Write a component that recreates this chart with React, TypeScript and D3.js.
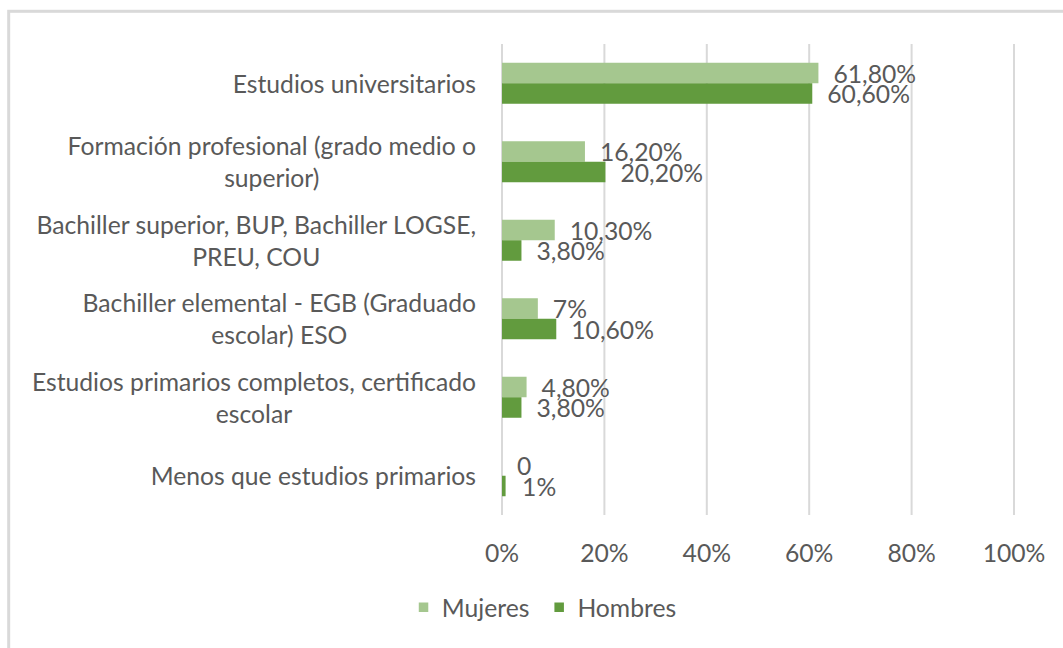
import React, { useEffect, useRef } from "react";
import * as d3 from "d3";

const categories = [
  "Estudios universitarios",
  "Formación profesional (grado medio o superior)",
  "Bachiller superior, BUP, Bachiller LOGSE, PREU, COU",
  "Bachiller elemental - EGB (Graduado escolar) ESO",
  "Estudios primarios completos, certificado escolar",
  "Menos que estudios primarios",
];
const categoryLines = [
  ["Estudios universitarios"],
  ["Formación profesional (grado medio o", "superior)"],
  ["Bachiller superior, BUP, Bachiller LOGSE,", "PREU, COU"],
  ["Bachiller elemental - EGB (Graduado", "escolar) ESO"],
  ["Estudios primarios completos, certificado", "escolar"],
  ["Menos que estudios primarios"],
];
const mujeres = [61.8, 16.2, 10.3, 7, 4.8, 0];
const hombres = [60.6, 20.2, 3.8, 10.6, 3.8, 0.7];
const mujeresLabels = ["61,80%", "16,20%", "10,30%", "7%", "4,80%", "0"];
const hombresLabels = ["60,60%", "20,20%", "3,80%", "10,60%", "3,80%", "1%"];
const xTicks = [0, 20, 40, 60, 80, 100];
const seriesNames = ["Mujeres", "Hombres"];
const seriesColors = ["#a5c78f", "#629b3e"];

const FONT = "Lato, 'Open Sans', sans-serif";
const FS = 24.7;
const TXT = "#595959";

export default function App() {
  const ref = useRef<SVGSVGElement>(null);
  useEffect(() => {
    const svg = d3.select(ref.current);
    svg.selectAll("*").remove();
    const W = 1063, H = 648;
    // frame
    svg.append("rect").attr("x", 8.7).attr("y", 11.3).attr("width", W + 20).attr("height", H + 20)
      .attr("fill", "white").attr("stroke", "#d9d9d9").attr("stroke-width", 3);

    const x = d3.scaleLinear().domain([0, 100]).range([502, 1014]);
    const y = d3.scaleBand<string>().domain(categories).range([44, 515]).padding(0);
    const barH = 20.5;

    // gridlines
    svg.append("g").selectAll("line").data(xTicks).join("line")
      .attr("x1", d => x(d)).attr("x2", d => x(d))
      .attr("y1", 44).attr("y2", 515)
      .attr("stroke", "#d9d9d9").attr("stroke-width", 2);

    // x tick labels
    svg.append("g").selectAll("text").data(xTicks).join("text")
      .attr("x", d => x(d)).attr("y", 552)
      .attr("text-anchor", "middle").attr("dominant-baseline", "central")
      .attr("font-family", FONT).attr("font-size", FS).attr("fill", TXT)
      .text(d => `${d}%`);

    const series = [mujeres, hombres];
    const labels = [mujeresLabels, hombresLabels];
    series.forEach((vals, si) => {
      const g = svg.append("g");
      g.selectAll("rect").data(vals).join("rect")
        .attr("x", x(0))
        .attr("y", (_, i) => y(categories[i])! + y.bandwidth() / 2 - barH + si * barH)
        .attr("width", d => x(d) - x(0))
        .attr("height", barH)
        .attr("fill", seriesColors[si]);
      g.selectAll("text").data(vals).join("text")
        .attr("x", d => x(Math.max(d, si === 1 ? 1 : d)) + 15)
        .attr("y", (_, i) => y(categories[i])! + y.bandwidth() / 2 - barH / 2 + si * barH)
        .attr("dominant-baseline", "central")
        .attr("font-family", FONT).attr("font-size", FS).attr("fill", TXT)
        .text((_, i) => labels[si][i]);
    });

    // category labels (centered multi-line block, right aligned)
    const lh = 32;
    categories.forEach((c, i) => {
      const lines = categoryLines[i];
      const cy = y(c)! + y.bandwidth() / 2;
      const g = svg.append("g");
      const texts = lines.map((ln, li) =>
        g.append("text")
          .attr("y", cy + (li - (lines.length - 1) / 2) * lh)
          .attr("dominant-baseline", "central")
          .attr("text-anchor", "middle")
          .attr("font-family", FONT).attr("font-size", FS).attr("fill", TXT)
          .text(ln)
      );
      const widths = texts.map(t => (t.node() as SVGTextElement).getComputedTextLength());
      const maxW = Math.max(...widths);
      const cx = 476 - maxW / 2;
      texts.forEach(t => t.attr("x", cx));
    });

    // legend
    const lg = svg.append("g");
    const items = seriesNames.map((n, i) => ({ n, c: seriesColors[i] }));
    let cursor = 0;
    const parts: { x: number; n: string; c: string }[] = [];
    const tmp = items.map(it => {
      const t = lg.append("text").attr("font-family", FONT).attr("font-size", FS).text(it.n);
      const w = (t.node() as SVGTextElement).getComputedTextLength();
      t.remove();
      return w;
    });
    items.forEach((it, i) => {
      parts.push({ x: cursor, n: it.n, c: it.c });
      cursor += 9 + 14 + tmp[i] + (i < items.length - 1 ? 25 : 0);
    });
    const start = 547.5 - cursor / 2;
    parts.forEach(p => {
      lg.append("rect").attr("x", start + p.x).attr("y", 602.5).attr("width", 9.5).attr("height", 9.5).attr("fill", p.c);
      lg.append("text").attr("x", start + p.x + 23).attr("y", 607)
        .attr("dominant-baseline", "central")
        .attr("font-family", FONT).attr("font-size", FS).attr("fill", TXT).text(p.n);
    });
  }, []);
  return (
    <svg ref={ref} width={1063} height={648}
      style={{ position: "absolute", left: 0, top: 0, background: "white" }} />
  );
}
